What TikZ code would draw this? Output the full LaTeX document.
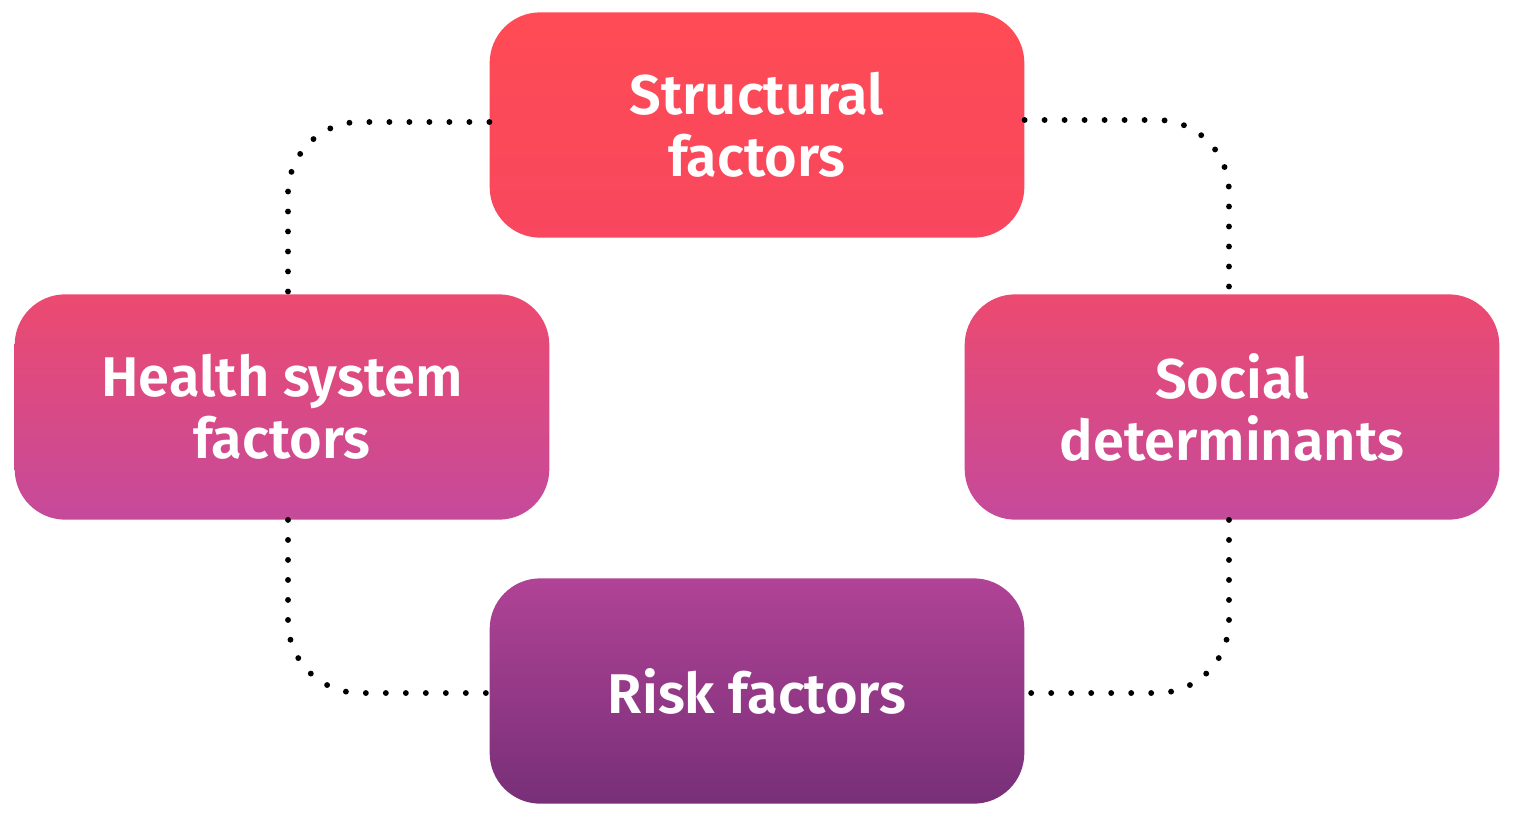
\documentclass[tikz,border=0pt]{standalone}
\usepackage{fontspec}
\setmainfont{Fira Sans}[BoldFont={Fira Sans SemiBold}]
\definecolor{topA}{HTML}{FF4B55}
\definecolor{topB}{HTML}{F8475E}
\definecolor{midA}{HTML}{EC4A70}
\definecolor{midB}{HTML}{C54A9B}
\definecolor{botA}{HTML}{B04396}
\definecolor{botB}{HTML}{782F78}
\begin{document}
\begin{tikzpicture}[x=0.75pt,y=-0.75pt,
  factor/.style={rounded corners=38pt, minimum width=401pt, minimum height=169pt,
    inner sep=0pt, align=center, text=white,
    font=\fontsize{42}{46.5}\selectfont\bfseries},
  dotline/.style={line width=4.4pt, dash pattern=on 0pt off 15pt, line cap=round, rounded corners=54pt}]
\useasboundingbox (0,0) rectangle (1520,826);
\node[factor, top color=topA, bottom color=topB] (st) at (757,125) {Structural\\factors};
\node[factor, top color=midA, bottom color=midB] (hs) at (282,407) {Health system\\factors};
\node[factor, top color=midA, bottom color=midB] (sd) at (1232,407) {Social\\determinants};
\node[factor, top color=botA, bottom color=botB] (rf) at (757,691) {Risk factors};
\draw[dotline] (st.west |- 0,122) -| (hs.north -| 288,0);
\draw[dotline] (st.east |- 0,120) -| (sd.north -| 1229,0);
\draw[dotline] (hs.south -| 288,0) |- (rf.west |- 0,693);
\draw[dotline] (sd.south -| 1229,0) |- (rf.east |- 0,693);
\end{tikzpicture}
\end{document}
